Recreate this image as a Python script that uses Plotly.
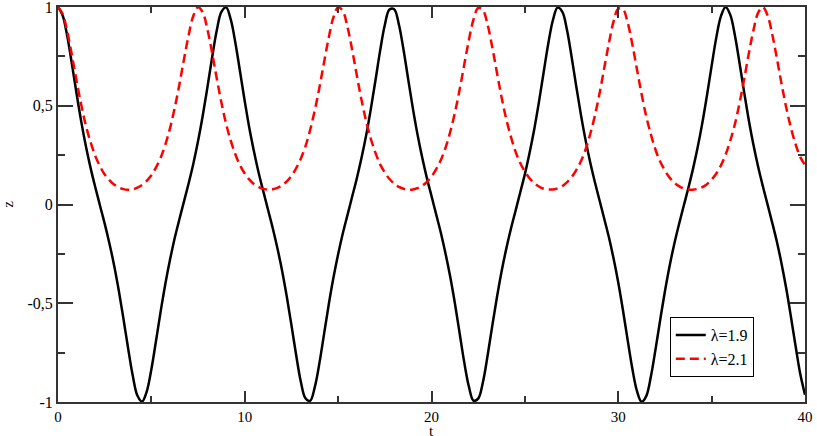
import numpy as np
import plotly.graph_objects as go

# sampling times (t axis), step 0.25 from 0 to 40
t_values = np.round(np.arange(0, 40.001, 0.25), 2)

# z(t) for lambda = 1.9
z_lambda_19 = [
    1.000, 0.957, 0.850, 0.708, 0.558, 0.417, 0.292, 0.183,
    0.086, -0.006, -0.097, -0.196, -0.306, -0.433, -0.576, -0.725,
    -0.865, -0.967, -0.998, -0.947, -0.834, -0.690, -0.540, -0.401,
    -0.279, -0.170, -0.075, 0.017, 0.109, 0.208, 0.321, 0.449,
    0.593, 0.743, 0.881, 0.975, 0.998, 0.937, 0.818, 0.672,
    0.523, 0.385, 0.266, 0.158, 0.064, -0.028, -0.120, -0.222,
    -0.335, -0.466, -0.611, -0.761, -0.896, -0.981, -0.994, -0.925,
    -0.802, -0.654, -0.505, -0.370, -0.252, -0.147, -0.054, 0.039,
    0.132, 0.235, 0.350, 0.483, 0.629, 0.779, 0.909, 0.987,
    0.989, 0.913, 0.785, 0.635, 0.488, 0.355, 0.239, 0.135,
    0.043, -0.050, -0.143, -0.248, -0.365, -0.499, -0.648, -0.797,
    -0.921, -0.993, -0.983, -0.901, -0.767, -0.617, -0.472, -0.340,
    -0.226, -0.124, -0.032, 0.061, 0.154, 0.261, 0.380, 0.517,
    0.666, 0.813, 0.933, 0.997, 0.977, 0.886, 0.749, 0.599,
    0.455, 0.326, 0.213, 0.113, 0.020, -0.072, -0.166, -0.274,
    -0.395, -0.534, -0.684, -0.829, -0.944, -0.999, -0.970, -0.870,
    -0.731, -0.582, -0.439, -0.311, -0.200, -0.101, -0.009, 0.082,
    0.179, 0.288, 0.412, 0.552, 0.702, 0.845, 0.954, 1.000,
    0.960, 0.855, 0.713, 0.564, 0.422, 0.297, 0.187, 0.090,
    -0.002, -0.094, -0.191, -0.302, -0.428, -0.570, -0.719, -0.860,
    -0.963,
]

# z(t) for lambda = 2.1
z_lambda_21 = [
    1.000, 0.965, 0.874, 0.753, 0.623, 0.502, 0.397, 0.314,
    0.245, 0.193, 0.152, 0.123, 0.101, 0.087, 0.078, 0.075,
    0.077, 0.085, 0.099, 0.120, 0.148, 0.188, 0.238, 0.304,
    0.387, 0.489, 0.608, 0.737, 0.860, 0.956, 0.999, 0.973,
    0.887, 0.769, 0.639, 0.516, 0.409, 0.323, 0.253, 0.198,
    0.157, 0.126, 0.103, 0.088, 0.079, 0.075, 0.077, 0.084,
    0.097, 0.117, 0.145, 0.183, 0.232, 0.294, 0.377, 0.476,
    0.593, 0.722, 0.846, 0.948, 0.998, 0.980, 0.899, 0.784,
    0.654, 0.530, 0.422, 0.333, 0.261, 0.203, 0.162, 0.129,
    0.106, 0.089, 0.080, 0.075, 0.076, 0.083, 0.095, 0.114,
    0.141, 0.179, 0.225, 0.287, 0.367, 0.463, 0.578, 0.706,
    0.832, 0.937, 0.995, 0.984, 0.912, 0.798, 0.670, 0.544,
    0.434, 0.344, 0.268, 0.210, 0.167, 0.133, 0.108, 0.091,
    0.080, 0.076, 0.076, 0.082, 0.093, 0.112, 0.138, 0.174,
    0.219, 0.279, 0.357, 0.451, 0.563, 0.691, 0.817, 0.927,
    0.991, 0.989, 0.923, 0.813, 0.685, 0.559, 0.446, 0.354,
    0.276, 0.216, 0.172, 0.136, 0.111, 0.093, 0.081, 0.076,
    0.075, 0.079, 0.088, 0.103, 0.126, 0.157, 0.198, 0.253,
    0.323, 0.409, 0.516, 0.639, 0.769, 0.887, 0.973, 0.999,
    0.956, 0.860, 0.737, 0.608, 0.489, 0.387, 0.304, 0.240,
    0.200,
]

series_names = ["λ=1.9", "λ=2.1"]
x_tick_vals = [0, 10, 20, 30, 40]
x_tick_text = ["0", "10", "20", "30", "40"]
y_tick_vals = [-1, -0.5, 0, 0.5, 1]
y_tick_text = ["-1", "-0,5", "0", "0,5", "1"]
x_title = "t"
y_title = "z"

SERIF = "'Liberation Serif', 'Times New Roman', 'DejaVu Serif', serif"
AXIS_COLOR = "#333333"

fig = go.Figure()
fig.add_trace(go.Scatter(
    x=t_values, y=z_lambda_19, mode="lines", name=series_names[0],
    line=dict(color="#000000", width=2.5, shape="spline", smoothing=1.0),
))
fig.add_trace(go.Scatter(
    x=t_values, y=z_lambda_21, mode="lines", name=series_names[1],
    line=dict(color="#ff0000", width=2.5, dash="9px,5px", shape="spline", smoothing=1.0),
))

fig.update_layout(
    width=817, height=436,
    margin=dict(l=58, r=12, t=7, b=34, autoexpand=False),
    paper_bgcolor="white", plot_bgcolor="white",
    font=dict(family=SERIF, size=15, color="#000000"),
    showlegend=True,
    legend=dict(
        x=0.819, y=0.215, xanchor="left", yanchor="top",
        bgcolor="white", bordercolor="#000000", borderwidth=1,
        font=dict(family=SERIF, size=16, color="#000000"),
        tracegroupgap=0, itemwidth=30,
    ),
    annotations=[
        dict(text=x_title, xref="paper", yref="paper", x=0.5, y=-0.074,
             xanchor="center", yanchor="middle", showarrow=False,
             font=dict(family=SERIF, size=15, color="#000000")),
        dict(text=y_title, xref="paper", yref="paper", x=-0.068, y=0.5,
             xanchor="center", yanchor="middle", showarrow=False, textangle=-90,
             font=dict(family=SERIF, size=15, color="#000000")),
    ],
)

fig.update_xaxes(
    range=[0, 40], showgrid=False, zeroline=False, automargin=False,
    showline=True, linecolor=AXIS_COLOR, linewidth=2, mirror="allticks",
    ticks="inside", ticklen=11, tickwidth=1.5, tickcolor=AXIS_COLOR,
    tickvals=x_tick_vals, ticktext=x_tick_text, ticklabeloverflow="allow",
    tickfont=dict(family=SERIF, size=15, color="#000000"),
    minor=dict(tickvals=[5, 15, 25, 35], ticks="inside", ticklen=6, tickwidth=1.5,
               tickcolor=AXIS_COLOR, showgrid=False),
)
fig.update_yaxes(
    range=[-1, 1], showgrid=False, zeroline=False, automargin=False,
    showline=True, linecolor=AXIS_COLOR, linewidth=2, mirror="allticks",
    ticks="inside", ticklen=15, tickwidth=1.5, tickcolor=AXIS_COLOR,
    tickvals=y_tick_vals, ticktext=y_tick_text, ticklabeloverflow="allow",
    tickfont=dict(family=SERIF, size=16, color="#000000"),
    minor=dict(tickvals=[-0.75, -0.25, 0.25, 0.75], ticks="inside", ticklen=7, tickwidth=1.5,
               tickcolor=AXIS_COLOR, showgrid=False),
)

fig.write_html(
    "out.html",
    config={"displayModeBar": False},
    post_script="document.body.style.margin='0';document.body.style.padding='0';",
)
